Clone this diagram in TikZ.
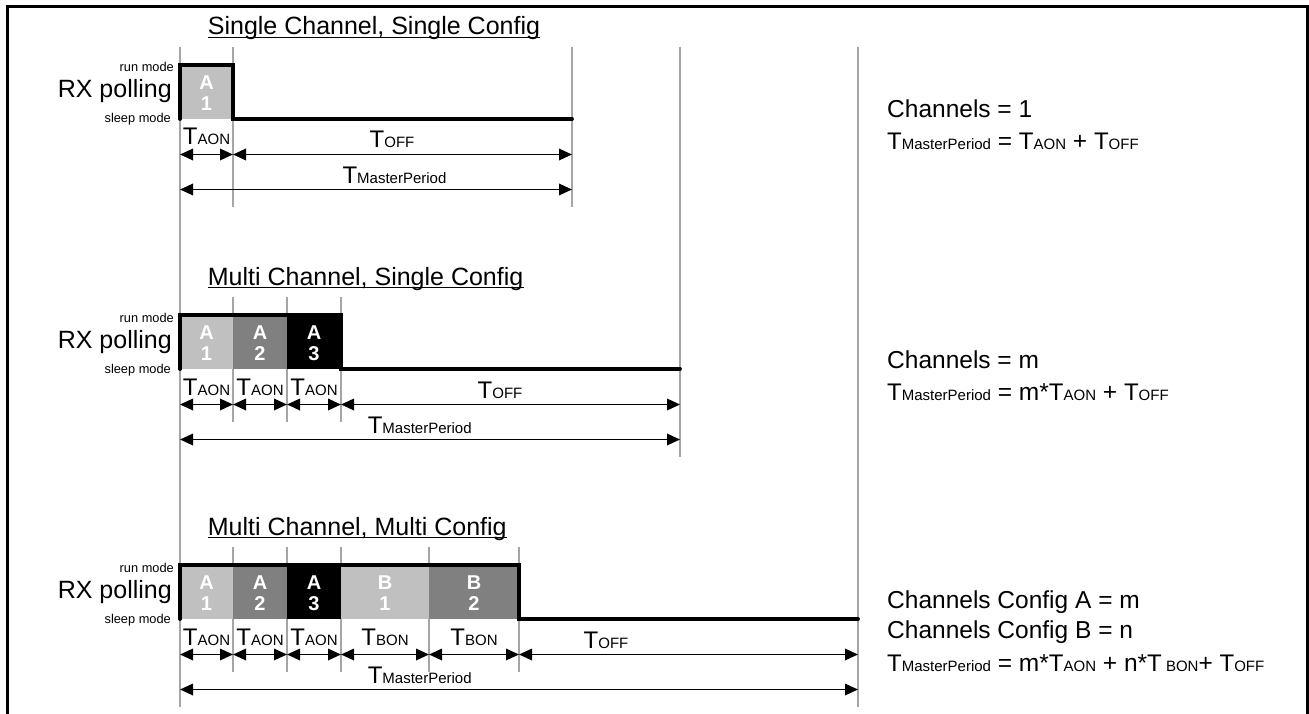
\documentclass[tikz,border=0pt]{standalone}
\usepackage{fontspec}
\setmainfont{Liberation Sans}
\usetikzlibrary{arrows.meta}
\definecolor{lightfill}{RGB}{192,192,192}
\definecolor{midfill}{RGB}{128,128,128}
\definecolor{guidegray}{RGB}{165,165,165}
\newcommand\bigT{{\fontsize{24}{24}\selectfont T}}
\newcommand\TT[1]{\bigT{\fontsize{15}{15}\selectfont #1}}
\newcommand\TTs[1]{\bigT{\fontsize{15}{15}\selectfont\ #1}}
\tikzset{
  guide/.style={draw=guidegray, line width=1.3pt},
  pulse/.style={line width=3.8pt, line cap=round, line join=miter},
  dimline/.style={line width=1.8pt, {Triangle[length=13pt,width=11.5pt]}-{Triangle[length=13pt,width=11.5pt]}},
  lbl/.style={inner sep=0pt, anchor=base},
  boxtxt/.style={inner sep=0pt, text=white, font=\fontsize{20}{20}\selectfont\bfseries},
  titletxt/.style={inner sep=0pt, anchor=base west, font=\fontsize{25}{25}\selectfont},
  smalltxt/.style={inner sep=0pt, anchor=base east, font=\fontsize{12.8}{12.8}\selectfont},
  rxtxt/.style={inner sep=0pt, anchor=base east, font=\fontsize{25}{25}\selectfont},
  righttxt/.style={inner sep=0pt, anchor=base west, font=\fontsize{24.5}{24.5}\selectfont},
}
\begin{document}
\begin{tikzpicture}[x=1pt,y=-1pt]
\useasboundingbox (0,0) rectangle (1309,714);
% frame
\coordinate (fbl) at (7.3,714);
\coordinate (ftl) at (7.3,6.7);
\coordinate (ftr) at (1307.5,6.7);
\coordinate (fbr) at (1307.5,714);
\draw[line width=2.7pt, line join=miter] (fbl) -- (ftl) -- (ftr) -- (fbr);

% ---------------- guide lines ----------------
\draw[guide] (180,46.7) -- (180,706.7);
\draw[guide] (233,46.7) -- (233,206.7);
\draw[guide] (572,46.7) -- (572,206.7);
\draw[guide] (680,46.7) -- (680,456.7);
\draw[guide] (858,46.7) -- (858,706.7);
\foreach \x in {233,287,341} \draw[guide] (\x,296.7) -- (\x,421.7);
\foreach \x in {233,287,341,429,519} \draw[guide] (\x,546.7) -- (\x,671.7);

% ---------------- Section 1 ----------------
\node[titletxt] (t1) at (207.7,35) {Single Channel, Single Config};
\draw[line width=1.4pt] ([yshift=-2.5pt]t1.base west) -- ([yshift=-2.5pt]t1.base east);
\node[smalltxt] (run1) at (174,72) {run mode};
\node[rxtxt] (rx1) at (172,98) {RX polling};
\node[smalltxt] (slp1) at (171,123) {sleep mode};
\fill[lightfill] (180,65) rectangle (233,119);
\node[boxtxt] (b1a) at (206.5,83) {A};
\node[boxtxt] (b1b) at (206.5,103.5) {1};
\coordinate (p1a) at (180,119);
\coordinate (p1b) at (180,65);
\coordinate (p1c) at (233,65);
\coordinate (p1d) at (233,119);
\coordinate (p1e) at (572,119);
\draw[pulse] (p1a) -- (p1b) -- (p1c) -- (p1d) -- (p1e);
\node[lbl] (l1a) at (206.5,145) {\TT{AON}};
\node[lbl] (l1o) at (392,148) {\TT{OFF}};
\node[lbl] (l1m) at (394.5,183.5) {\TT{MasterPeriod}};
\coordinate (a1x0) at (180,154.5);
\coordinate (a1x1) at (233,154.5);
\coordinate (a1x2) at (572,154.5);
\draw[dimline] (a1x0) -- (a1x1);
\draw[dimline] (a1x1) -- (a1x2);
\coordinate (m1a) at (180,189.5);
\coordinate (m1b) at (572,189.5);
\draw[dimline] (m1a) -- (m1b);
\node[righttxt] (r1a) at (887,118) {Channels = 1};
\node[righttxt] (r1b) at (887,150) {\TT{MasterPeriod} = \TT{AON} + \TT{OFF}};

% ---------------- Section 2 ----------------
\node[titletxt] (t2) at (207.7,285) {Multi Channel, Single Config};
\draw[line width=1.4pt] ([yshift=-2.5pt]t2.base west) -- ([yshift=-2.5pt]t2.base east);
\node[smalltxt] (run2) at (174,322) {run mode};
\node[rxtxt] (rx2) at (172,348) {RX polling};
\node[smalltxt] (slp2) at (171,373) {sleep mode};
\fill[lightfill] (180,315) rectangle (233,369);
\fill[midfill] (233,315) rectangle (287,369);
\fill[black] (287,315) rectangle (341,369);
\node[boxtxt] (b2a) at (206.5,333) {A};
\node[boxtxt] (b2b) at (206.5,353.5) {1};
\node[boxtxt] (b2c) at (260,333) {A};
\node[boxtxt] (b2d) at (260,353.5) {2};
\node[boxtxt] (b2e) at (314,333) {A};
\node[boxtxt] (b2f) at (314,353.5) {3};
\coordinate (p2a) at (180,369);
\coordinate (p2b) at (180,315);
\coordinate (p2c) at (341,315);
\coordinate (p2d) at (341,369);
\coordinate (p2e) at (680,369);
\draw[pulse] (p2a) -- (p2b) -- (p2c) -- (p2d) -- (p2e);
\node[lbl] (l2a) at (206.5,395) {\TT{AON}};
\node[lbl] (l2b) at (260,395) {\TT{AON}};
\node[lbl] (l2c) at (314,395) {\TT{AON}};
\node[lbl] (l2o) at (500,398) {\TT{OFF}};
\node[lbl] (l2m) at (419.7,433.5) {\TT{MasterPeriod}};
\coordinate (a2x0) at (180,404.5);
\coordinate (a2x1) at (233,404.5);
\coordinate (a2x2) at (287,404.5);
\coordinate (a2x3) at (341,404.5);
\coordinate (a2x4) at (680,404.5);
\draw[dimline] (a2x0) -- (a2x1);
\draw[dimline] (a2x1) -- (a2x2);
\draw[dimline] (a2x2) -- (a2x3);
\draw[dimline] (a2x3) -- (a2x4);
\coordinate (m2a) at (180,439.5);
\coordinate (m2b) at (680,439.5);
\draw[dimline] (m2a) -- (m2b);
\node[righttxt] (r2a) at (887,368) {Channels = m};
\node[righttxt] (r2b) at (887,400) {\TT{MasterPeriod} = m*\TT{AON} + \TT{OFF}};

% ---------------- Section 3 ----------------
\node[titletxt] (t3) at (207.7,535) {Multi Channel, Multi Config};
\draw[line width=1.4pt] ([yshift=-2.5pt]t3.base west) -- ([yshift=-2.5pt]t3.base east);
\node[smalltxt] (run3) at (174,572) {run mode};
\node[rxtxt] (rx3) at (172,598) {RX polling};
\node[smalltxt] (slp3) at (171,623) {sleep mode};
\fill[lightfill] (180,565) rectangle (233,619);
\fill[midfill] (233,565) rectangle (287,619);
\fill[black] (287,565) rectangle (341,619);
\fill[lightfill] (341,565) rectangle (429,619);
\fill[midfill] (429,565) rectangle (519,619);
\node[boxtxt] (b3a) at (206.5,583) {A};
\node[boxtxt] (b3b) at (206.5,603.5) {1};
\node[boxtxt] (b3c) at (260,583) {A};
\node[boxtxt] (b3d) at (260,603.5) {2};
\node[boxtxt] (b3e) at (314,583) {A};
\node[boxtxt] (b3f) at (314,603.5) {3};
\node[boxtxt] (b3g) at (385,583) {B};
\node[boxtxt] (b3h) at (385,603.5) {1};
\node[boxtxt] (b3i) at (474,583) {B};
\node[boxtxt] (b3j) at (474,603.5) {2};
\coordinate (p3a) at (180,619);
\coordinate (p3b) at (180,565);
\coordinate (p3c) at (519,565);
\coordinate (p3d) at (519,619);
\coordinate (p3e) at (858,619);
\draw[pulse] (p3a) -- (p3b) -- (p3c) -- (p3d) -- (p3e);
\node[lbl] (l3a) at (206.5,645) {\TT{AON}};
\node[lbl] (l3b) at (260,645) {\TT{AON}};
\node[lbl] (l3c) at (314,645) {\TT{AON}};
\node[lbl] (l3d) at (385,645) {\TT{BON}};
\node[lbl] (l3e) at (474,645) {\TT{BON}};
\node[lbl] (l3o) at (606,648) {\TT{OFF}};
\node[lbl] (l3m) at (419.7,683.5) {\TT{MasterPeriod}};
\coordinate (a3x0) at (180,654.5);
\coordinate (a3x1) at (233,654.5);
\coordinate (a3x2) at (287,654.5);
\coordinate (a3x3) at (341,654.5);
\coordinate (a3x4) at (429,654.5);
\coordinate (a3x5) at (519,654.5);
\coordinate (a3x6) at (858,654.5);
\draw[dimline] (a3x0) -- (a3x1);
\draw[dimline] (a3x1) -- (a3x2);
\draw[dimline] (a3x2) -- (a3x3);
\draw[dimline] (a3x3) -- (a3x4);
\draw[dimline] (a3x4) -- (a3x5);
\draw[dimline] (a3x5) -- (a3x6);
\coordinate (m3a) at (180,689.5);
\coordinate (m3b) at (858,689.5);
\draw[dimline] (m3a) -- (m3b);
\node[righttxt] (r3a) at (887,608.3) {Channels Config A = m};
\node[righttxt] (r3b) at (887,638.3) {Channels Config B = n};
\node[righttxt] (r3c) at (887,671.5) {\TT{MasterPeriod} = m*\TT{AON} + n*\TTs{BON}+ \TT{OFF}};
\end{tikzpicture}
\end{document}
